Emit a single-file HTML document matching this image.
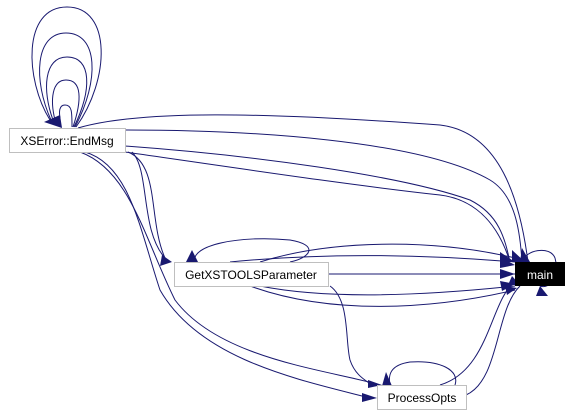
<!DOCTYPE html>
<html><head><style>
body{margin:0;background:#fff;width:570px;height:415px;overflow:hidden}
svg{display:block}
text{font-family:"Liberation Sans",sans-serif;font-size:12px}
</style></head><body>
<svg width="570" height="415" viewBox="0 0 570 415">
<g fill="none" stroke="#191970" stroke-width="1">
<!-- self loops on XSError -->
<path d="M76,127 C110,80 112,7 67,7 C22,7 25,80 50,120"/>
<path d="M75,127 C100,80 98,33 66,33 C35,33 33,80 51,120"/>
<path d="M74,127 C92,90 92,57 67,57 C44,57 42,90 53,120"/>
<path d="M73,127 C82,100 82,80 66,80 C52,80 50,100 55,120"/>
<path d="M72,127 C72,112 72,105 65,105 C59,105 59,112 60,118"/>
<!-- XSError -> main -->
<path d="M78,128 C140,110 260,112 440,125 C500,132 520,200 528,262"/>
<path d="M125,130 C250,130 420,140 490,180 C515,195 520,230 522,262"/>
<path d="M125,146 C250,155 400,175 470,200 C500,215 505,240 510,262"/>
<path d="M125,152 C250,170 350,185 440,195 C480,200 500,230 510,262"/>
<!-- XSError -> GetXSTOOLS -->
<path d="M128,152 C160,165 148,220 165,258"/>
<path d="M132,152 C150,170 140,230 165,258"/>
<!-- XSError -> ProcessOpts -->
<path d="M80,152 C130,170 145,240 175,300 C220,360 330,370 380,385"/>
<path d="M85,152 C130,165 140,230 160,290 C200,360 300,380 370,398"/>
<!-- GetXSTOOLS self loop -->
<path d="M195,262 C190,245 240,235 290,240 C320,245 310,258 290,262"/>
<!-- GetXSTOOLS -> main -->
<path d="M260,262 C330,240 430,238 515,258"/>
<path d="M230,262 C330,252 430,255 515,262"/>
<path d="M328,274 L515,274"/>
<path d="M260,286 C330,300 430,295 515,286"/>
<path d="M250,286 C330,315 430,310 515,290"/>
<!-- GetXSTOOLS -> ProcessOpts -->
<path d="M330,286 C350,300 345,340 350,360 C355,375 365,380 372,385"/>
<!-- ProcessOpts self loop -->
<path d="M455,385 C460,370 440,360 410,362 C390,365 388,375 390,385"/>
<!-- ProcessOpts -> main -->
<path d="M440,385 C490,370 490,300 515,282"/>
<path d="M466,395 C500,380 495,310 520,286"/>
<!-- main self loop -->
<path d="M522,262 C525,250 550,245 555,258 C560,275 550,290 540,286"/>
</g>
<g fill="#191970">
<polygon points="44,122 60,115 62,128"/>
<polygon points="162,255 172,262 160,266"/>
<polygon points="368,380 382,385 368,388"/>
<polygon points="362,393 377,398 362,402"/>
<polygon points="192,250 198,262 186,262"/>
<polygon points="500,252 515,262 500,262"/>
<polygon points="500,257 515,265 500,268"/>
<polygon points="500,269 515,274 500,279"/>
<polygon points="500,281 515,284 502,291"/>
<polygon points="505,286 517,288 507,295"/>
<polygon points="512,250 525,262 512,262"/>
<polygon points="522,248 530,262 520,262"/>
<polygon points="386,372 392,386 382,386"/>
<polygon points="512,276 520,285 508,285"/>
<polygon points="540,286 548,296 536,296"/>
</g>
<rect x="9.5" y="128.5" width="116" height="24" fill="#fff" stroke="#bfbfbf"/>
<text x="67" y="145" text-anchor="middle">XSError::EndMsg</text>
<rect x="174.5" y="262.5" width="154" height="24" fill="#fff" stroke="#bfbfbf"/>
<text x="251" y="279" text-anchor="middle">GetXSTOOLSParameter</text>
<rect x="515" y="262" width="50" height="24" fill="#000"/>
<text x="540" y="279" text-anchor="middle" fill="#fff">main</text>
<rect x="377.5" y="385.5" width="89" height="24" fill="#fff" stroke="#bfbfbf"/>
<text x="422" y="402" text-anchor="middle">ProcessOpts</text>
</svg>
</body></html>
